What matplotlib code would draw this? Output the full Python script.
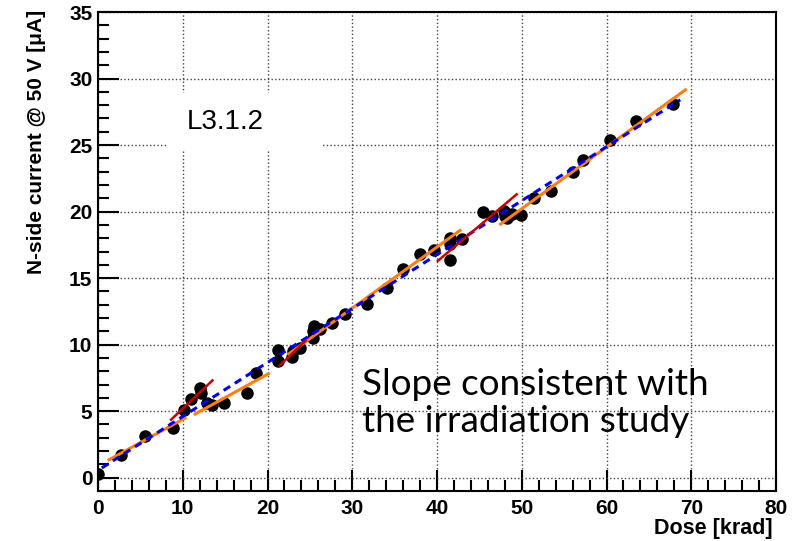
import numpy as np
import matplotlib.pyplot as plt
from matplotlib.patches import Rectangle

# measured N-side leakage current vs accumulated dose
dose = [0.0, 2.7, 5.6, 8.8, 10.1, 10.95, 12.05, 12.1, 12.85, 13.4, 14.9, 17.6,
        18.65, 21.2, 21.2, 22.9, 22.95, 23.8, 25.35, 25.45, 25.35, 26.25, 27.6,
        29.2, 31.7, 34.15, 36.0, 37.95, 39.65, 41.5, 41.55, 41.55, 42.9, 45.4,
        46.5, 47.95, 48.05, 48.2, 48.8, 49.9, 51.45, 53.4, 56.1, 57.2, 60.4,
        63.45, 67.8]
current = [0.28, 1.67, 3.17, 3.7, 5.1, 5.9, 6.75, 6.35, 5.63, 5.45, 5.63, 6.36,
           7.9, 9.63, 8.8, 9.05, 9.53, 9.78, 11.05, 11.4, 10.5, 11.2, 11.65,
           12.28, 13.07, 14.27, 15.65, 16.78, 17.12, 18.05, 17.6, 16.35, 17.93,
           19.96, 19.7, 20.08, 19.7, 19.5, 19.82, 19.78, 21.05, 21.56, 22.97,
           23.85, 25.4, 26.8, 28.1]

# linear fits: (x start, x end, y start, y end)
global_fit = (0.44, 68.7, 0.73, 28.4)
orange_fits = [(1.3, 10.27, 1.35, 4.48),
               (11.45, 20.1, 4.78, 7.81),
               (22.5, 42.7, 9.3, 18.58),
               (47.5, 69.3, 19.06, 29.15)]
red_fits = [(8.62, 13.5, 4.36, 7.31),
            (21.45, 24.5, 8.44, 10.3),
            (40.1, 49.4, 16.3, 21.3)]

fig = plt.figure(figsize=(8.02, 5.41), dpi=100)
ax = fig.add_axes([0.1222, 0.0924, 0.8454, 0.8854])

ax.set_xlim(0, 80)
ax.set_ylim(-1, 35)
ax.set_xticks(np.arange(0, 81, 10))
ax.set_xticks(np.arange(0, 81, 2), minor=True)
ax.set_yticks(np.arange(0, 36, 5))
ax.set_yticks(np.arange(-1, 36, 1), minor=True)

ax.grid(True, which='major', linestyle=':', color='#444444', linewidth=1.0)
ax.set_axisbelow(True)

ax.tick_params(which='both', direction='in', top=False, right=False, width=1.5)
ax.tick_params(which='major', length=15, pad=4)
ax.tick_params(axis='x', which='major', pad=6)
ax.tick_params(which='minor', length=8)
for lab in ax.get_xticklabels() + ax.get_yticklabels():
    lab.set_fontfamily('Liberation Sans')
    lab.set_fontweight('bold')
    lab.set_fontsize(15)
for sp in ax.spines.values():
    sp.set_linewidth(1.5)

ax.set_xlabel('Dose [krad]', loc='right', fontfamily='Liberation Sans',
              fontweight='bold', fontsize=15.5)
ax.set_ylabel('N-side current @ 50 V [μA]', loc='top',
              fontfamily='Liberation Sans', fontweight='bold', fontsize=15)
ax.xaxis.set_label_coords(0.9956, -0.056)
ax.yaxis.set_label_coords(-0.077, 1.004)

ax.plot(dose, current, 'o', color='black', markersize=8, zorder=3)

for x0, x1, y0, y1 in orange_fits:
    ax.plot([x0, x1], [y0, y1], color='#ff7f0e', linewidth=2.2, zorder=4)
x0, x1, y0, y1 = global_fit
ax.plot([x0, x1], [y0, y1], color='blue', linewidth=2.2,
        linestyle=(0, (2.5, 1.8)), zorder=5)
for x0, x1, y0, y1 in red_fits:
    ax.plot([x0, x1], [y0, y1], color='#cc0000', linewidth=1.8, zorder=6)

# white label box over the grid
ax.add_patch(Rectangle((8.15, 24.6), 18.25, 4.3, facecolor='white',
                       edgecolor='none', zorder=2))
ax.text(10.47, 26.22, 'L3.1.2', fontfamily='Liberation Sans', fontsize=20,
        ha='left', va='baseline', zorder=3)

ax.text(31.2, 3.46, 'Slope consistent with\nthe irradiation study',
        fontfamily='Lato', fontsize=26.6, ha='left', va='baseline',
        linespacing=1.13, zorder=7)

fig.savefig('out.png', dpi=100)
